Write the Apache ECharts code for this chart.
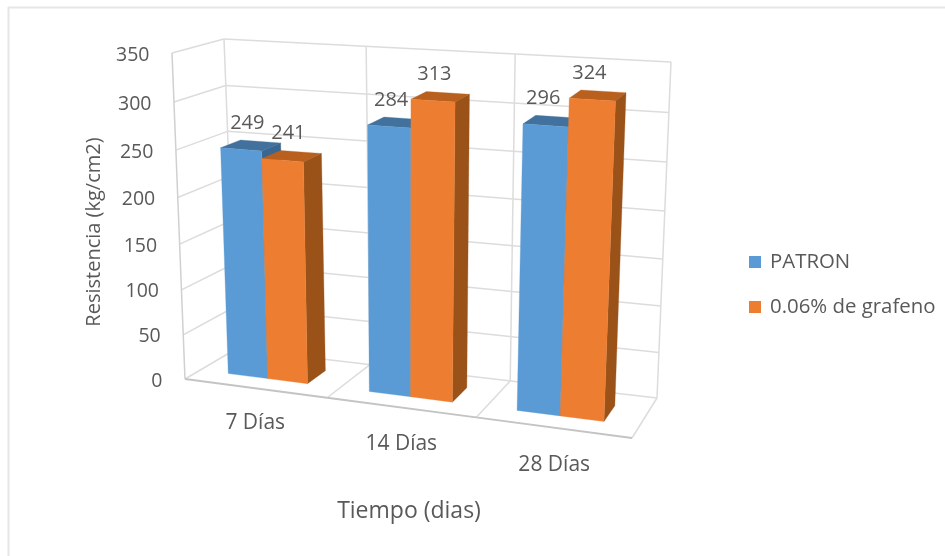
<!DOCTYPE html>
<html>
<head>
<meta charset="utf-8">
<style>html,body{margin:0;padding:0;background:#fff}#c{width:945px;height:556px;filter:blur(0.45px)}</style>
<script src="https://cdn.jsdelivr.net/npm/echarts@6/dist/echarts.min.js"></script>
</head>
<body>
<div id="c"></div>
<script>
const categories = ['7 Días', '14 Días', '28 Días'];
const patron = [249, 284, 296];
const grafeno = [241, 313, 324];
const yTicks = [0, 50, 100, 150, 200, 250, 300, 350];
const seriesNames = ['PATRON', '0.06% de grafeno'];
const yTitle = 'Resistencia (kg/cm2)';
const xTitle = 'Tiempo (dias)';

const FONT = '"Open Sans", sans-serif';
const TEXT = '#595959';
const GRID = { left: 185, top: 53, width: 447, height: 326 };
const C = {
  fb0: [185, 379], fb1: [632, 438], bb0: [236, 349], bb1: [657, 398],
  ft0: [172, 53], ft1: [647, 82], bt0: [224, 39], bt1: [671, 62]
};
const mix = (a, b, t) => [a[0] + (b[0] - a[0]) * t, a[1] + (b[1] - a[1]) * t];
// oblique view of the box holding the plot: u across, v up, w into the page
function view(u, v, w) {
  const uu = 0.931 * u + 0.069 * u * u;
  const vv = v - 0.06 * v * (1 - v);
  const bottom = mix(mix(C.fb0, C.fb1, uu), mix(C.bb0, C.bb1, uu), w);
  const top = mix(mix(C.ft0, C.ft1, uu), mix(C.bt0, C.bt1, uu), w);
  return mix(bottom, top, vv);
}
function norm(pt) {
  return [(pt[0] - GRID.left) / GRID.width, (GRID.top + GRID.height - pt[1]) / GRID.height];
}
const line = (a, b, color, width) => ({
  type: 'line', shape: { x1: a[0], y1: a[1], x2: b[0], y2: b[1] },
  style: { stroke: color, lineWidth: width }
});
const poly = (pts, color) => ({ type: 'polygon', shape: { points: pts }, style: { fill: color, stroke: color, lineWidth: 0.3 } });
const label = (text, x, y, align, size) => ({
  type: 'text', z2: 50,
  style: { text: String(text), x, y, align: align, verticalAlign: 'middle', fill: TEXT, font: size + 'px ' + FONT }
});

function renderTick(params, api) {
  const v = norm(api.coord([0, api.value(1)]))[1];
  const a = view(0, v, 0), b = view(0, v, 1), c = view(1, v, 1);
  const kids = [line(a, b, '#dcdcdc', 1.5), line(b, c, '#dcdcdc', 1.5),
    label(api.value(1), a[0] - 22.5, a[1] + 2, 'right', 19.5)];
  return { type: 'group', children: kids };
}
function renderFrame(params, api) {
  const i = api.value(0);
  const center = norm(api.coord([i, 0]))[0];
  const band = api.size([1, 0])[0] / GRID.width;
  const uR = center + band / 2;
  const base = view(center, 0, 0);
  const kids = [label(categories[i], base[0] + i * 0.5, base[1] + 35 + (i ? 2 : 0), 'center', 21)];
  kids.push(line(view(uR, 0, 0), view(uR, 0, 1), '#dcdcdc', 1.5));
  kids.push(line(view(uR, 0, 1), view(uR, 1, 1), '#dcdcdc', 1.5));
  kids.push(line(view(center - band / 2, 0, 0), view(uR, 0, 0), '#c4c4c4', 1.8));
  if (i === 0) {
    kids.push(line(view(0, 0, 0), view(0, 1, 0), '#d0d0d0', 1.5));
    kids.push(line(view(0, 0, 1), view(0, 1, 1), '#dcdcdc', 1.5));
  }
  return { type: 'group', children: kids };
}
function barRenderer(side, front, top, dark) {
  return function (params, api) {
    const i = api.value(0), val = api.value(1);
    const p = api.coord([i, val]);
    const band = api.size([1, 0])[0] / GRID.width;
    const c = norm(p)[0] - band * 0.012, h = norm(p)[1];
    const u0 = side < 0 ? c - band * 0.284 : c;
    const u1 = side < 0 ? c : c + band * 0.284;
    const w0 = 0.3, w1 = 0.7;
    const A = view(u0, 0, w0), B = view(u1, 0, w0), E = view(u1, 0, w1);
    const D = view(u0, h, w0), F = view(u1, h, w0), G = view(u1, h, w1), H = view(u0, h, w1);
    const mid = view((u0 + u1) / 2, h, 0.5);
    return { type: 'group', children: [
      poly([H, G, F, D], top),
      poly([F, G, E, B], dark),
      poly([A, B, F, D], front),
      label(val, mid[0] - 3.5 - 2.5 * i, mid[1] - 22.5, 'center', 20)
    ] };
  };
}
const enc = { x: 0, y: 1 };
const chart = echarts.init(document.getElementById('c'), null, { renderer: 'canvas' });
chart.setOption({
  animation: false,
  backgroundColor: '#fff',
  grid: { left: GRID.left, top: GRID.top, width: GRID.width, height: GRID.height },
  xAxis: { type: 'category', data: categories, show: false },
  yAxis: { type: 'value', min: 0, max: 350, interval: 50, show: false },
  legend: {
    data: seriesNames, orient: 'vertical', left: 744, top: 247, itemWidth: 12, itemHeight: 12,
    itemGap: 25, icon: 'rect',
    textStyle: { color: TEXT, fontFamily: FONT, fontSize: 20.4, padding: [0, 0, 0, 4] }
  },
  graphic: [
    { type: 'line', silent: true, shape: { x1: 8, y1: 7.5, x2: 945, y2: 7.5 }, style: { stroke: '#e6e6e6', lineWidth: 2 } },
    { type: 'line', silent: true, shape: { x1: 8.5, y1: 7, x2: 8.5, y2: 556 }, style: { stroke: '#e6e6e6', lineWidth: 2 } },
    { type: 'text', silent: true, x: 94, y: 232, rotation: Math.PI / 2, style: { text: yTitle, align: 'center', verticalAlign: 'middle', fill: TEXT, font: '20px ' + FONT } },
    { type: 'text', silent: true, x: 409, y: 511, style: { text: xTitle, align: 'center', verticalAlign: 'middle', fill: TEXT, font: '23px ' + FONT } }
  ],
  series: [
    { type: 'custom', name: 'ticks', silent: true, clip: false, z: 1, encode: enc, renderItem: renderTick,
      data: yTicks.map(t => [0, t]) },
    { type: 'custom', name: 'frame', silent: true, clip: false, z: 1, encode: enc, renderItem: renderFrame,
      data: categories.map((c, i) => [i, 0]) },
    { type: 'custom', name: seriesNames[0], clip: false, z: 2, encode: enc, itemStyle: { color: '#5B9BD5' },
      renderItem: barRenderer(-1, '#5B9BD5', '#41719C', '#3A6690'),
      data: patron.map((v, i) => [i, v]) },
    { type: 'custom', name: seriesNames[1], clip: false, z: 3, encode: enc, itemStyle: { color: '#ED7D31' },
      renderItem: barRenderer(1, '#ED7D31', '#B9601F', '#9A5219'),
      data: grafeno.map((v, i) => [i, v]) }
  ]
});
</script>
</body>
</html>
